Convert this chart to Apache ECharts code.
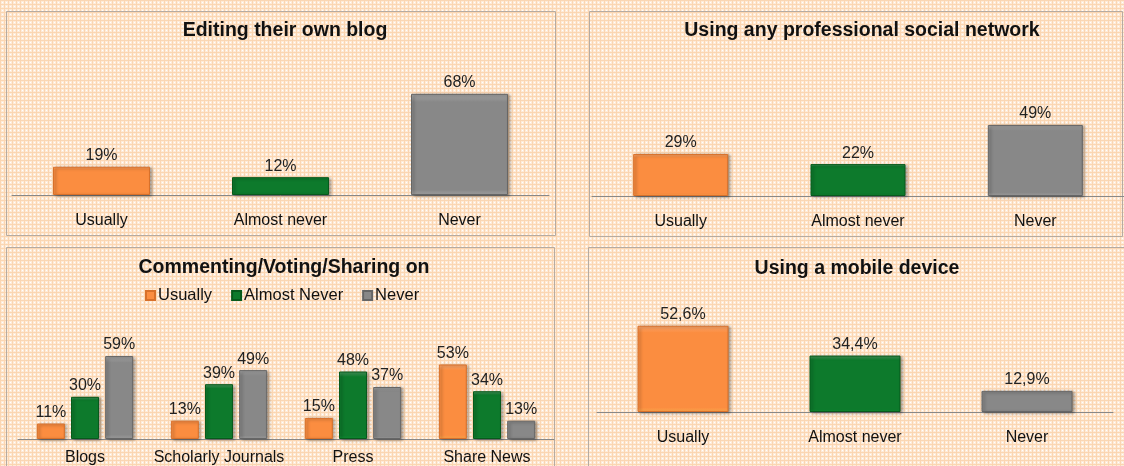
<!DOCTYPE html>
<html><head><meta charset="utf-8">
<script src="https://cdn.jsdelivr.net/npm/echarts@6/dist/echarts.min.js"></script>
<style>html,body{margin:0;padding:0;background:#fde8d4}#c{width:1124px;height:466px}</style>
</head><body><div id="c"></div>
<script>
// ---- data ----
const titles = ["Editing their own blog","Using any professional social network","Commenting/Voting/Sharing on","Using a mobile device"];
const cats3 = ["Usually","Almost never","Never"];
const blogValues = [19, 12, 68];
const proNetValues = [29, 22, 49];
const mobileValues = [52.6, 34.4, 12.9];
const commentCats = ["Blogs","Scholarly Journals","Press","Share News"];
const seriesNames = ["Usually","Almost Never","Never"];
const commentUsually = [11, 13, 15, 53];
const commentAlmostNever = [30, 39, 48, 34];
const commentNever = [59, 49, 37, 13];

// ---- style ----
const ORANGE = '#FB8D40', GREEN = '#0D7A2C', GRAY = '#888888';
const colors3 = [ORANGE, GREEN, GRAY];
const borders3 = ['#D8702A', '#075A1C', '#666666'];
const FONT = '"Liberation Sans", Arial, sans-serif';

// background pattern
const pc = document.createElement('canvas'); pc.width = 4; pc.height = 4;
const g = pc.getContext('2d');
g.fillStyle = '#FEEBD8'; g.fillRect(0,0,4,4);
g.fillStyle = '#FBD6B2'; g.fillRect(0,0,4,1); g.fillRect(0,0,1,4);
g.fillStyle = '#FFFFFF'; g.fillRect(2,2,1,1);

function barItem(i){
  return {
    color: new echarts.graphic.LinearGradient(0,0,0,1,[
      {offset:0, color: echarts.color.lift(colors3[i], 0.25)},
      {offset:0.08, color: colors3[i]},
      {offset:0.95, color: colors3[i]},
      {offset:1, color: echarts.color.lift(colors3[i], -0.2)}
    ]),
    borderColor: borders3[i], borderWidth: 1,
    shadowColor: 'rgba(0,0,0,0.35)', shadowBlur: 3, shadowOffsetX: 2, shadowOffsetY: 1
  };
}
function catAxis(gi, data, margin){
  return {type:'category', gridIndex: gi, data: data,
    axisLine:{show:true, lineStyle:{color:'#888', width:1}}, axisTick:{show:false},
    axisLabel:{color:'#111', fontSize:16, fontFamily:FONT, margin: margin, interval:0}};
}
function valAxis(gi, max){
  return {type:'value', gridIndex: gi, min:0, max:max, show:false, splitLine:{show:false}};
}
const lbl = (fmt) => ({show:true, position:'top', distance:3, color:'#222', fontSize:16, fontFamily:FONT, formatter: fmt});
const pct = p => p.value + '%';
const pctComma = p => String(p.value).replace('.', ',') + '%';

function singleSeries(gi, values, width, fmt){
  return {type:'bar', xAxisIndex: gi, yAxisIndex: gi, barWidth: width,
    data: values.map((v,i)=>({value:v, itemStyle: barItem(i)})),
    label: lbl(fmt), silent:true};
}

const frame = (x,y,w,h)=>({type:'rect', shape:{x:x,y:y,width:w,height:h}, style:{fill:'none', stroke:'#B5ABA2', lineWidth:1}, silent:true, z:-1});
const titleStyle = {fontSize:19.5, fontWeight:'bold', color:'#111', fontFamily:FONT};

const option = {
  backgroundColor: {image: pc, repeat: 'repeat'},
  animation: false,
  title: [
    {text: titles[0], left: 280, top: 16, textAlign:'center', textStyle: titleStyle},
    {text: titles[1], left: 857, top: 16, textAlign:'center', textStyle: titleStyle},
    {text: titles[2], left: 279, top: 253, textAlign:'center', textStyle: titleStyle},
    {text: titles[3], left: 852, top: 254, textAlign:'center', textStyle: titleStyle}
  ],
  legend: {data: seriesNames, left: 140, top: 282, itemWidth: 9, itemHeight: 9, itemGap: 19, icon: 'rect',
    textStyle:{fontSize:16.5, color:'#111', fontFamily:FONT, padding:[0,0,0,-2]}},
  graphic: [frame(6.5,11.5,549,224), frame(589.5,11.5,533,225), frame(6.5,247.5,548,230), frame(588.5,247.5,540,230)],
  grid: [
    {left: 12, width: 537, top: 76, height: 119},
    {left: 592, width: 538, top: 80, height: 116},
    {left: 18, width: 536, top: 340.6, height: 99.4},
    {left: 597, width: 516, top: 313.6, height: 98.4}
  ],
  xAxis: [catAxis(0, cats3, 18), catAxis(1, cats3, 18), catAxis(2, commentCats, 11), catAxis(3, cats3, 18)],
  yAxis: [valAxis(0, 80), valAxis(1, 80), valAxis(2, 70), valAxis(3, 60)],
  series: [
    singleSeries(0, blogValues, 97, pct),
    singleSeries(1, proNetValues, 95, pct),
    singleSeries(3, mobileValues, 91, pctComma),
    {name: seriesNames[0], type:'bar', xAxisIndex:2, yAxisIndex:2, data: commentUsually, barWidth:28, barGap:'22%', itemStyle: barItem(0), label: lbl(pct)},
    {name: seriesNames[1], type:'bar', xAxisIndex:2, yAxisIndex:2, data: commentAlmostNever, barWidth:28, barGap:'22%', itemStyle: barItem(1), label: lbl(pct)},
    {name: seriesNames[2], type:'bar', xAxisIndex:2, yAxisIndex:2, data: commentNever, barWidth:28, barGap:'22%', itemStyle: barItem(2), label: lbl(pct)}
  ]
};
const chart = echarts.init(document.getElementById('c'), null, {renderer:'canvas'});
chart.setOption(option);
</script>
</body></html>
